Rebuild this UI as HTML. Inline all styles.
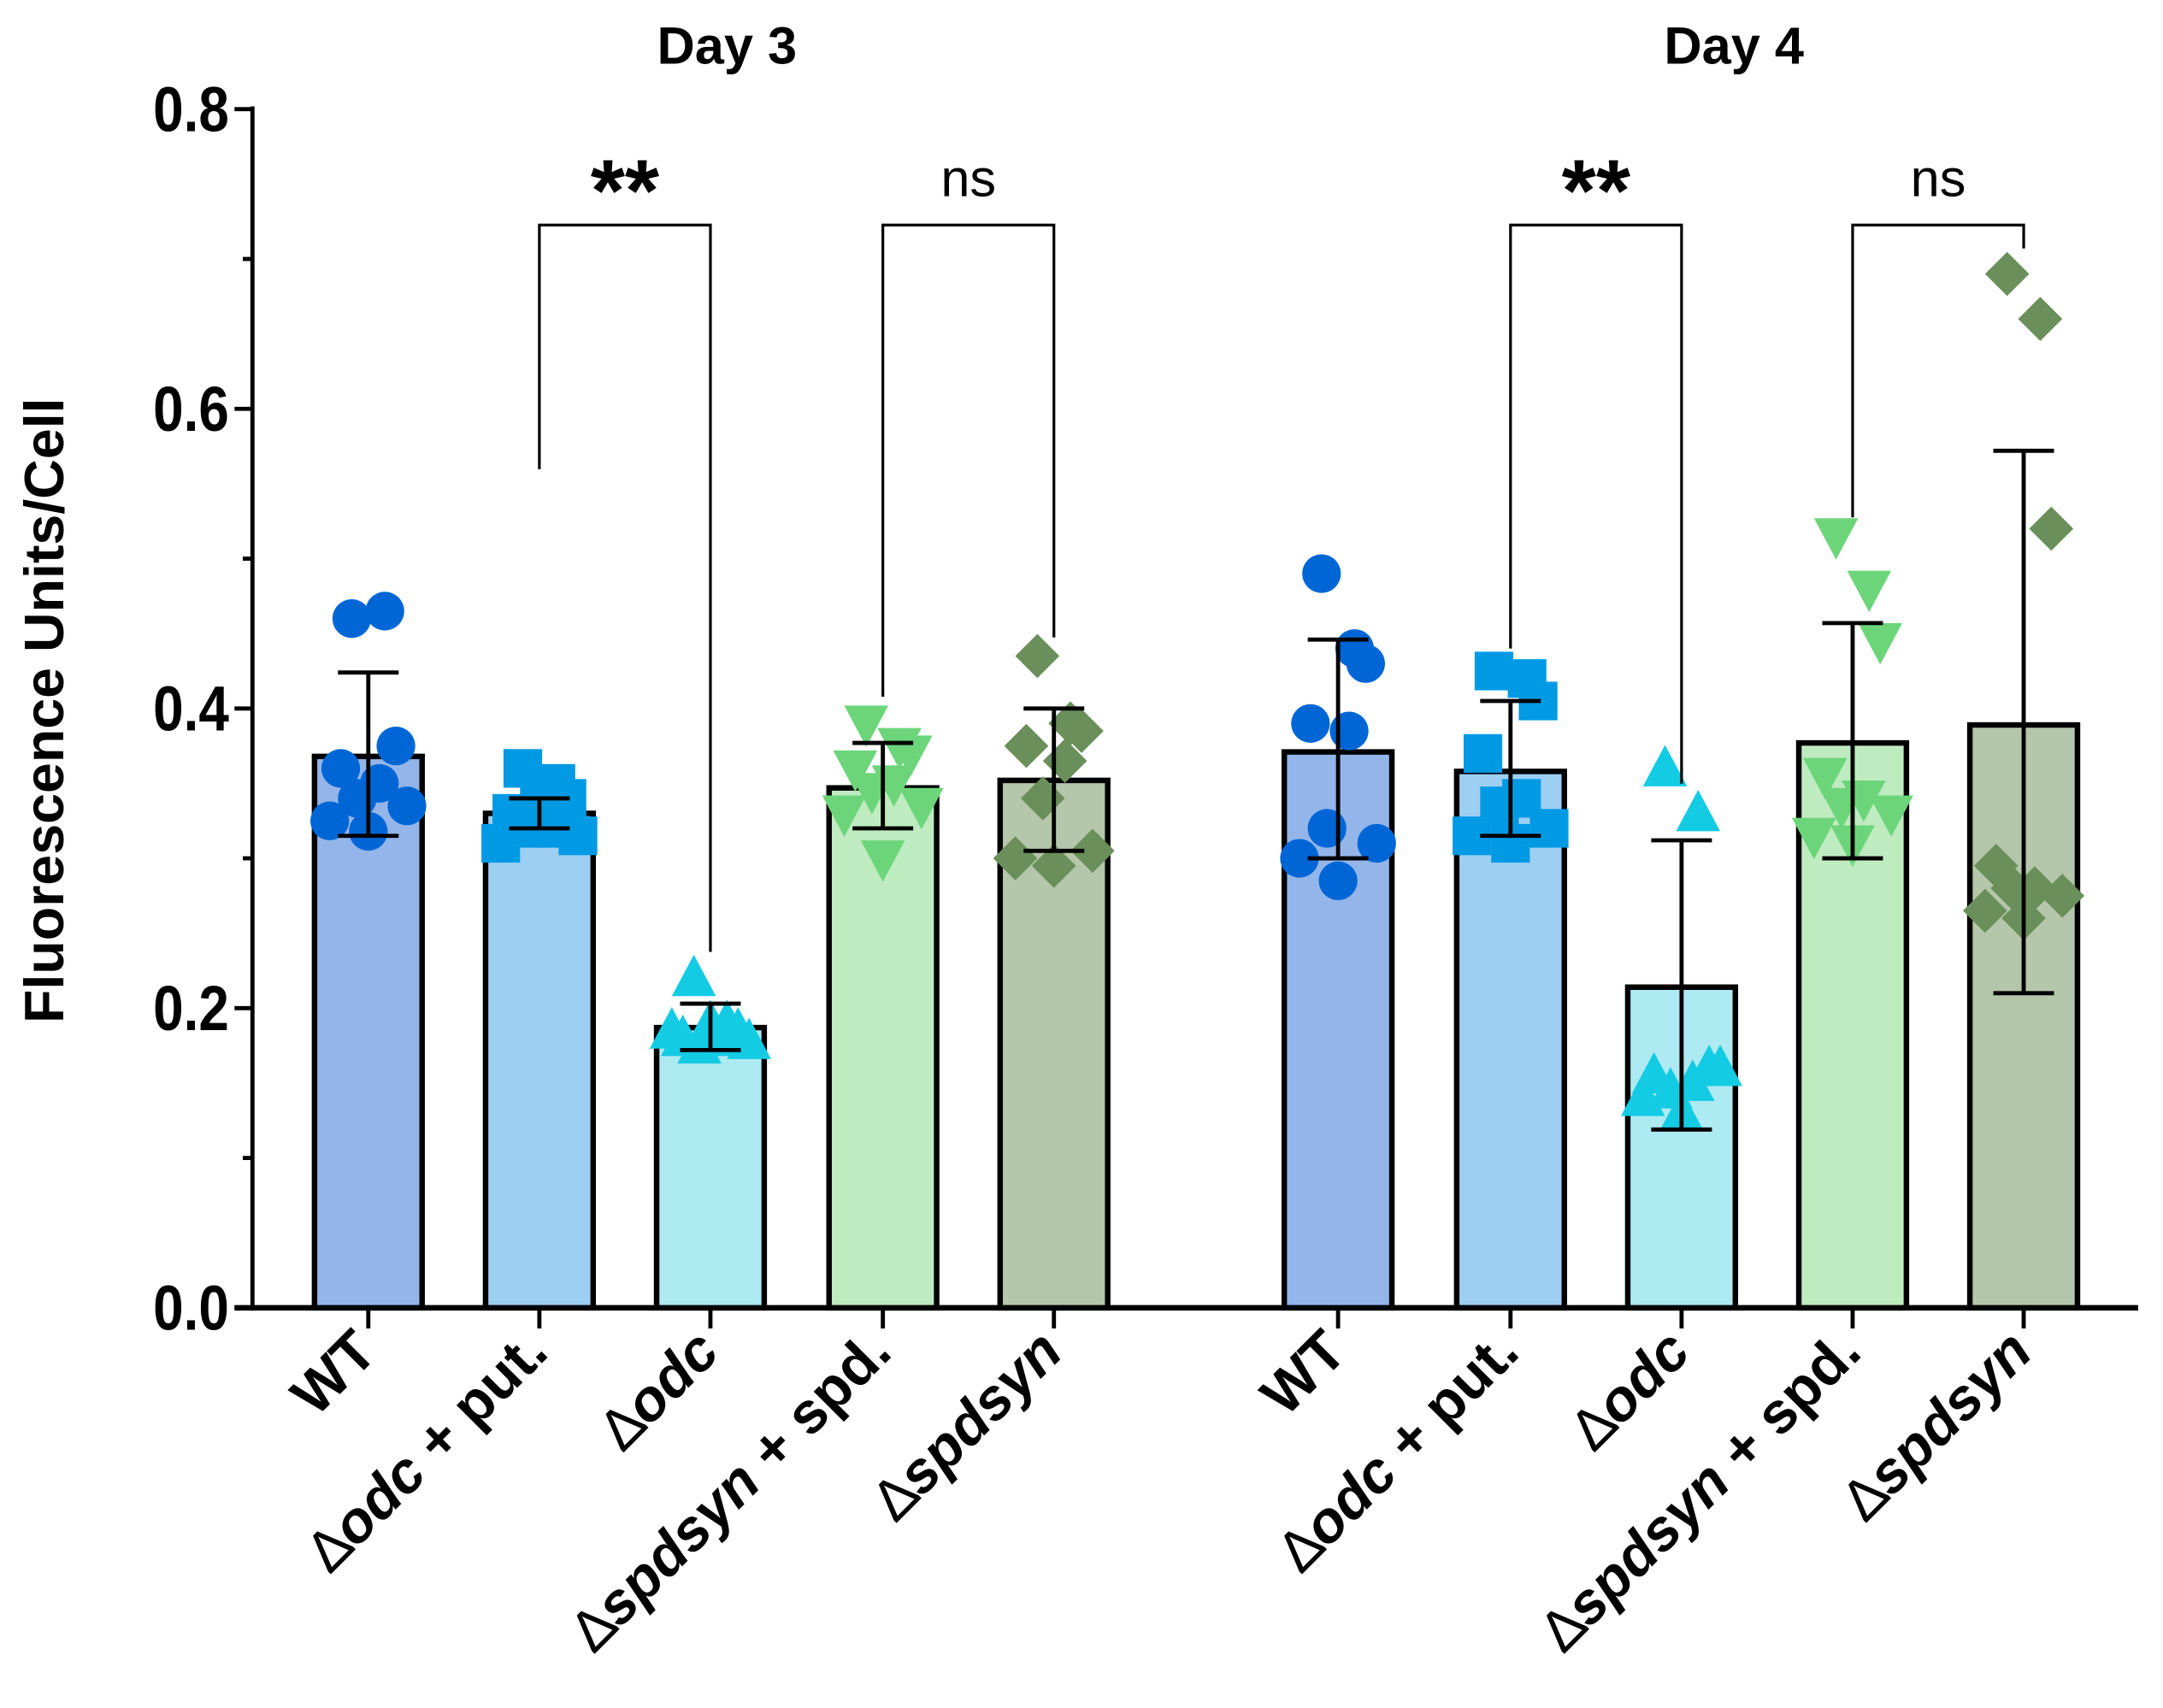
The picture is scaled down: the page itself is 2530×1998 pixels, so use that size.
<!DOCTYPE html>
<html><head><meta charset="utf-8"><style>html,body{margin:0;padding:0;background:#fff}svg{display:block}</style></head>
<body>
<svg id="chart" xmlns="http://www.w3.org/2000/svg" width="2530" height="1998" viewBox="0 0 1568 1238" font-family="Liberation Sans, Arial, sans-serif">
<g id="axes"></g>
<g id="bars"></g>
<g id="pts"></g>
<g id="labels"></g>
</svg>
<script>
const categories = ["WT","odc+put","odc","spdsyn+spd","spdsyn","WT","odc+put","odc","spdsyn+spd","spdsyn"];
const means = [0.368,0.330,0.187,0.347,0.352,0.371,0.358,0.214,0.377,0.389];
const sdUpper = [0.424,0.340,0.203,0.377,0.400,0.446,0.405,0.312,0.457,0.572];
const sdLower = [0.315,0.320,0.172,0.320,0.305,0.300,0.315,0.119,0.300,0.210];
const points = [
 [0.46,0.465,0.375,0.36,0.35,0.34,0.335,0.325,0.318],
 [0.36,0.35,0.34,0.33,0.32,0.32,0.315,0.31,0.335],
 [0.22,0.19,0.185,0.18,0.18,0.175,0.178,0.185,0.19],
 [0.39,0.375,0.37,0.36,0.35,0.345,0.335,0.33,0.30],
 [0.435,0.39,0.385,0.375,0.365,0.34,0.305,0.30,0.295],
 [0.49,0.44,0.43,0.39,0.385,0.32,0.31,0.30,0.285],
 [0.425,0.42,0.405,0.37,0.34,0.335,0.32,0.315,0.31],
 [0.36,0.33,0.16,0.155,0.15,0.145,0.16,0.14,0.13],
 [0.515,0.48,0.445,0.355,0.34,0.335,0.33,0.315,0.31],
 [0.69,0.66,0.52,0.295,0.28,0.28,0.275,0.265,0.26]
];
const yTicks = [0,0.2,0.4,0.6,0.8];
const yTickLabels = ["0.0","0.2","0.4","0.6","0.8"];
const jitter = [-12,12,20,-20,8,-8,28,-28,0];
const xCenters = [267,391,515,640,764,970,1095,1219,1343,1467];
const barFill = ["#93b5e9","#9dcff3","#aeeaf2","#bfebc1","#b5c7aa"];
const ptFill = ["#0066d6","#009ae4","#14cbe4","#6cd57a","#6a8f5a"];
const shapes = ["circle","square","up","down","diamond"];
const y = v => 948 - v*1086.25;
const NS = "http://www.w3.org/2000/svg";
function mk(tag, attrs, parent){const e=document.createElementNS(NS,tag);for(const k in attrs)e.setAttribute(k,attrs[k]);parent.appendChild(e);return e;}
const axes=document.getElementById('axes'), bars=document.getElementById('bars'), pts=document.getElementById('pts'), labels=document.getElementById('labels');
let a=mk('line',{x1:183,y1:77,x2:183,y2:950,stroke:'#000','stroke-width':3},axes);


a=mk('line',{x1:170,y1:948,x2:1550,y2:948,stroke:'#000','stroke-width':4},axes);


for(let i=0;i<=8;i++){const v=i/10;const major=i%2===0;
 const t=mk('line',{x1:major?170:176,y1:y(v),x2:183,y2:y(v),stroke:'#000','stroke-width':3},axes);
 
 }
yTicks.forEach((v,i)=>{const t=mk('text',{x:166,y:y(v)+16,'text-anchor':'end','font-size':46,'font-weight':'bold',transform:'translate(166,0) scale(0.86,1) translate(-166,0)'},axes);t.textContent=yTickLabels[i];
 
 });
let yt=mk('text',{x:0,y:0,transform:'translate(46,515) rotate(-90)','text-anchor':'middle','font-size':40,'font-weight':'bold'},axes);
yt.textContent='Fluorescence Units/Cell';


[["Day 3",527],["Day 4",1257]].forEach(([s,x])=>{const t=mk('text',{x:x,y:46,'text-anchor':'middle','font-size':38,'font-weight':'bold'},axes);t.textContent=s;
 
 });
categories.forEach((c,i)=>{const cx=xCenters[i];const k=i%5;
 const r=mk('rect',{x:cx-39,y:y(means[i]),width:78,height:948-y(means[i]),fill:barFill[k],stroke:'#000','stroke-width':4},bars);
 
 
 const tx=mk('line',{x1:cx,y1:948,x2:cx,y2:963,stroke:'#000','stroke-width':3},axes);
 
 
});
categories.forEach((c,i)=>{const cx=xCenters[i];const k=i%5;const col=ptFill[k];
 points[i].forEach((v,j)=>{const px=cx+jitter[j],py=y(v);let e;
  if(shapes[k]==='circle')e=mk('circle',{cx:px,cy:py,r:14,fill:col},pts);
  else if(shapes[k]==='square')e=mk('rect',{x:px-14,y:py-14,width:28,height:28,fill:col},pts);
  else if(shapes[k]==='up')e=mk('polygon',{points:`${px},${py-17} ${px-16},${py+13} ${px+16},${py+13}`,fill:col},pts);
  else if(shapes[k]==='down')e=mk('polygon',{points:`${px},${py+17} ${px-16},${py-13} ${px+16},${py-13}`,fill:col},pts);
  else e=mk('polygon',{points:`${px},${py-16} ${px+16},${py} ${px},${py+16} ${px-16},${py}`,fill:col},pts);
  
  
 });
 const g=mk('path',{d:`M${cx},${y(sdLower[i])}V${y(sdUpper[i])}M${cx-22},${y(sdUpper[i])}H${cx+22}M${cx-22},${y(sdLower[i])}H${cx+22}`,stroke:'#000','stroke-width':3,fill:'none'},pts);
 
 
});
[[391,515,340,690,'**'],[640,764,505,462,'ns'],[1095,1219,470,568,'**'],[1343,1467,375,180,'ns']].forEach(b=>{
 const p=mk('path',{d:`M${b[0]},${b[2]}V163H${b[1]}V${b[3]}`,stroke:'#000','stroke-width':2,fill:'none'},labels);
 
 
 const t=mk('text',{x:(b[0]+b[1])/2,y:b[4]==='**'?160:142,'text-anchor':'middle','font-size':b[4]==='**'?64:38,'font-weight':b[4]==='**'?'bold':'normal'},labels);
 t.textContent=b[4];
 
 
});
const lab=[['','WT',''],['∆','odc',' + put.'],['∆','odc',''],['∆','spdsyn',' + spd.'],['∆','spdsyn','']];
categories.forEach((c,i)=>{const cx=xCenters[i];const L=lab[i%5];
 const t=mk('text',{transform:`translate(${cx+8},${982}) rotate(-45)`,'text-anchor':'end','font-size':42,'font-weight':'bold'},labels);
 const s1=mk('tspan',{'font-weight':'normal'},t);s1.textContent=L[0];
 const s2=mk('tspan',{'font-style':L[1]==='WT'?'normal':'italic'},t);s2.textContent=L[1];
 const s3=mk('tspan',{},t);s3.textContent=L[2];
 
 
});
</script>
</body></html>
